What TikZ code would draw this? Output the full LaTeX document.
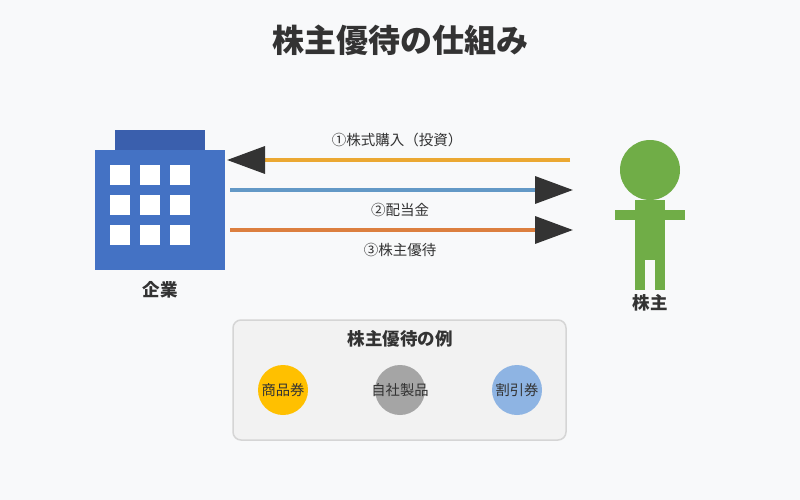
\documentclass[tikz,border=0pt]{standalone}
\usepackage{fontspec}
\setmainfont{Noto Sans CJK JP}
\usetikzlibrary{arrows.meta}
\definecolor{bg}{HTML}{F8F9FA}
\definecolor{txt}{HTML}{333333}
\definecolor{bldg}{HTML}{4472C4}
\definecolor{roof}{HTML}{3A5FAD}
\definecolor{person}{HTML}{70AD47}
\definecolor{aone}{HTML}{EBA832}
\definecolor{atwo}{HTML}{6399C6}
\definecolor{athree}{HTML}{DC7F3F}
\definecolor{boxfill}{HTML}{F2F2F2}
\definecolor{boxline}{HTML}{D5D5D5}
\definecolor{cyel}{HTML}{FFC000}
\definecolor{cgray}{HTML}{A5A5A5}
\definecolor{cblue}{HTML}{8EB4E3}
\tikzset{
  flow/.style={line width=3.5pt, -{Triangle[length=38pt,width=27pt,color=txt,fill=txt]}},
  lbl/.style={text=txt, font=\fontsize{14.5}{16}\selectfont, inner sep=0pt},
  biglbl/.style={text=txt, font=\bfseries\fontsize{17.5}{19}\selectfont, inner sep=0pt},
  win/.style={fill=white, draw=none},
  perk/.style={circle, minimum size=50pt, inner sep=0pt, draw=none},
  perkt/.style={text=txt, inner sep=0pt, font=\fontsize{14.3}{16}\selectfont}
}
\begin{document}
\begin{tikzpicture}[x=1pt,y=-1pt]
\fill[bg] (0,0) rectangle (800,500);
\useasboundingbox (0,0) rectangle (800,500);
\node[text=txt, font=\bfseries\fontsize{32}{36}\selectfont, inner sep=0pt] (title) at (400,40) {株主優待の仕組み};
% building
\fill[roof] (115,130) rectangle (205,150);
\node[fill=bldg, minimum width=130pt, minimum height=120pt, inner sep=0pt] (bld) at (160,210) {};
\foreach \x in {110,140,170} \foreach \y in {165,195,225} \fill[win] (\x,\y) rectangle ++(20,20);
\node[biglbl] (bldl) at (160,290) {企業};
% person
\fill[person] (650,170) circle (30);
\fill[person] (615,210) rectangle (685,220);
\fill[person] (635,200) rectangle (665,260);
\fill[person] (635,259) rectangle (645,290);
\fill[person] (655,259) rectangle (665,290);
\node[biglbl] (perl) at (650,303) {株主};
% arrows
\coordinate (s1) at (570,160); \coordinate (e1) at (227,160);
\coordinate (s2) at (230,190); \coordinate (e2) at (573,190);
\coordinate (s3) at (230,230); \coordinate (e3) at (573,230);
\draw[flow, aone] (s1) -- (e1);
\draw[flow, atwo] (s2) -- (e2);
\draw[flow, athree] (s3) -- (e3);
\node[lbl] (l1) at (397,140) {①株式購入（投資）};
\node[lbl] (l2) at (400,210) {②配当金};
\node[lbl] (l3) at (400,250) {③株主優待};
% examples box
\draw[boxline, fill=boxfill, line width=1.5pt, rounded corners=8pt] (233,320) rectangle (566,440);
\node[biglbl] (ext) at (400,339) {株主優待の例};
\node[perk, fill=cyel] (c1) at (283,390) {};
\node[perk, fill=cgray] (c2) at (400,390) {};
\node[perk, fill=cblue] (c3) at (517,390) {};
\node[perkt] (t1) at (c1) {商品券};
\node[perkt] (t2) at (c2) {自社製品};
\node[perkt] (t3) at (c3) {割引券};
\end{tikzpicture}
\end{document}
